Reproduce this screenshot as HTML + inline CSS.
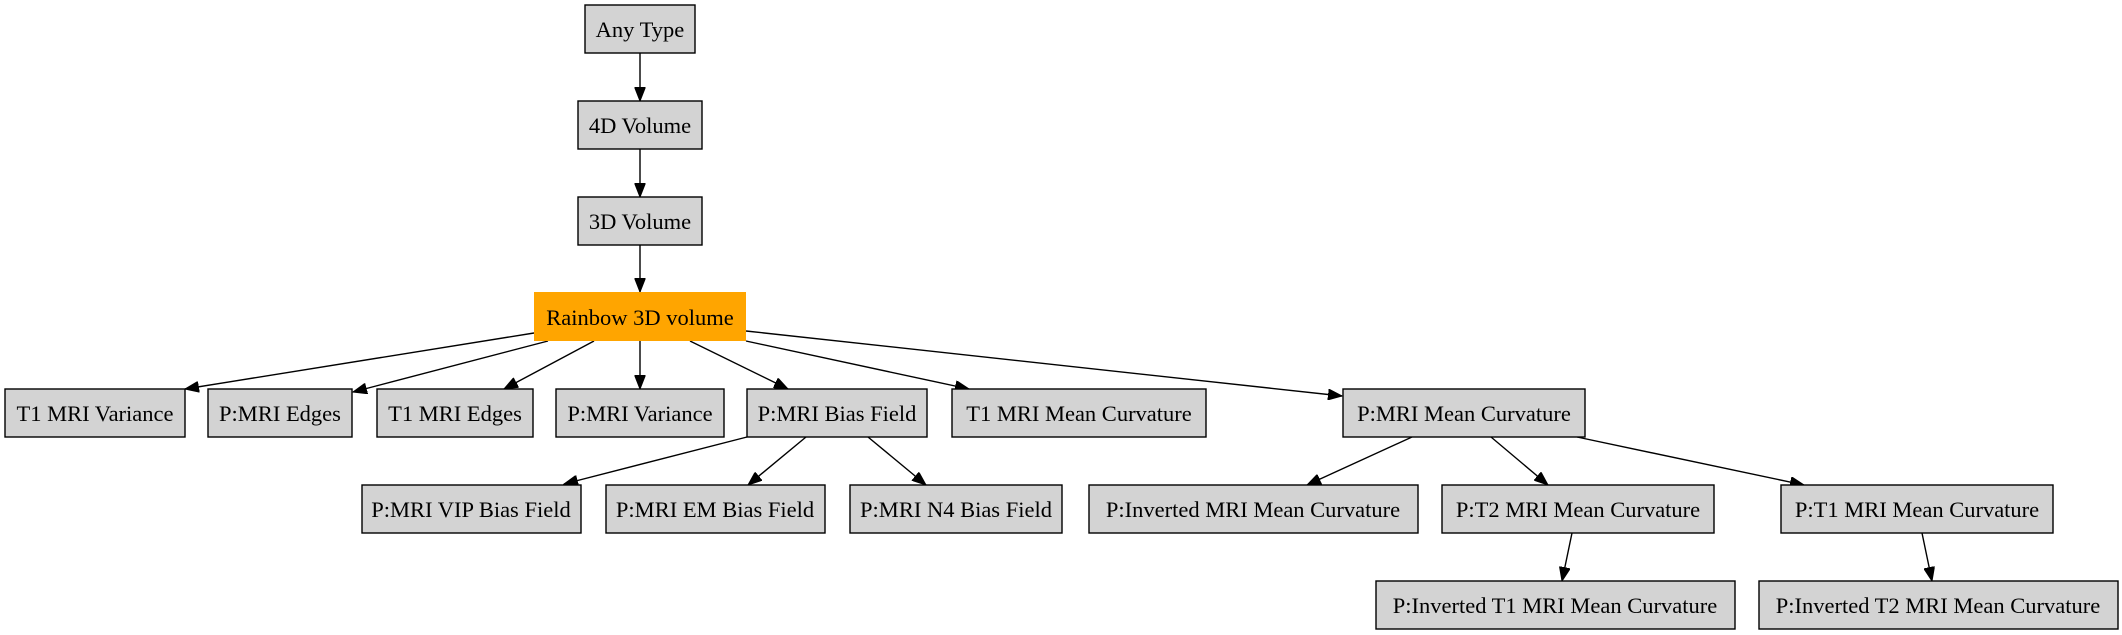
<!DOCTYPE html>
<html><head><meta charset="utf-8"><style>
body{margin:0;background:#fff;width:2122px;height:635px;overflow:hidden}
svg{display:block}
text{font-family:"Liberation Serif",serif;font-size:22.5px;fill:#000}
.n{fill:#d3d3d3;stroke:#000;stroke-width:1.4}
line{stroke:#000;stroke-width:1.4}
</style></head><body>
<svg width="2122" height="635" viewBox="0 0 2122 635" xmlns="http://www.w3.org/2000/svg">
<defs><marker id="a" markerWidth="15" markerHeight="11" refX="14" refY="5.5" orient="auto" markerUnits="userSpaceOnUse"><path d="M0,0 L14,5.5 L0,11 z" fill="#000" stroke="#000"/></marker></defs>
<g marker-end="url(#a)">
<line x1="640" y1="53" x2="640" y2="101"/>
<line x1="640" y1="149" x2="640" y2="197"/>
<line x1="640" y1="245" x2="640" y2="292"/>
<line x1="534" y1="333" x2="185" y2="389"/>
<line x1="548" y1="341" x2="353" y2="392"/>
<line x1="594" y1="341" x2="504" y2="389"/>
<line x1="640" y1="341" x2="640" y2="389"/>
<line x1="690" y1="341" x2="788" y2="389"/>
<line x1="746" y1="341" x2="969" y2="389"/>
<line x1="746" y1="331" x2="1342" y2="396"/>
<line x1="747" y1="437" x2="564" y2="484"/>
<line x1="806" y1="437" x2="748" y2="485"/>
<line x1="868" y1="437" x2="926" y2="485"/>
<line x1="1412" y1="437" x2="1307" y2="485"/>
<line x1="1491" y1="437" x2="1548" y2="485"/>
<line x1="1577" y1="437" x2="1804" y2="485"/>
<line x1="1572" y1="533" x2="1562" y2="581"/>
<line x1="1922" y1="533" x2="1932" y2="581"/>
</g>
<g text-anchor="middle">
<rect class="n" x="585" y="5" width="110" height="48"/><text x="640" y="37">Any Type</text>
<rect class="n" x="578" y="101" width="124" height="48"/><text x="640" y="133">4D Volume</text>
<rect class="n" x="578" y="197" width="124" height="48"/><text x="640" y="229">3D Volume</text>
<rect x="534" y="292" width="212" height="49" fill="#ffa500"/><text x="640" y="325">Rainbow 3D volume</text>
<rect class="n" x="5" y="389" width="180" height="48"/><text x="95" y="421">T1 MRI Variance</text>
<rect class="n" x="208" y="389" width="144" height="48"/><text x="280" y="421">P:MRI Edges</text>
<rect class="n" x="377" y="389" width="156" height="48"/><text x="455" y="421">T1 MRI Edges</text>
<rect class="n" x="556" y="389" width="168" height="48"/><text x="640" y="421">P:MRI Variance</text>
<rect class="n" x="747" y="389" width="180" height="48"/><text x="837" y="421">P:MRI Bias Field</text>
<rect class="n" x="952" y="389" width="254" height="48"/><text x="1079" y="421">T1 MRI Mean Curvature</text>
<rect class="n" x="1343" y="389" width="242" height="48"/><text x="1464" y="421">P:MRI Mean Curvature</text>
<rect class="n" x="362" y="485" width="219" height="48"/><text x="471" y="517">P:MRI VIP Bias Field</text>
<rect class="n" x="606" y="485" width="219" height="48"/><text x="715" y="517">P:MRI EM Bias Field</text>
<rect class="n" x="850" y="485" width="212" height="48"/><text x="956" y="517">P:MRI N4 Bias Field</text>
<rect class="n" x="1089" y="485" width="329" height="48"/><text x="1253" y="517">P:Inverted MRI Mean Curvature</text>
<rect class="n" x="1442" y="485" width="272" height="48"/><text x="1578" y="517">P:T2 MRI Mean Curvature</text>
<rect class="n" x="1781" y="485" width="272" height="48"/><text x="1917" y="517">P:T1 MRI Mean Curvature</text>
<rect class="n" x="1376" y="581" width="359" height="48"/><text x="1555" y="613">P:Inverted T1 MRI Mean Curvature</text>
<rect class="n" x="1759" y="581" width="359" height="48"/><text x="1938" y="613">P:Inverted T2 MRI Mean Curvature</text>
</g>
</svg>
</body></html>
